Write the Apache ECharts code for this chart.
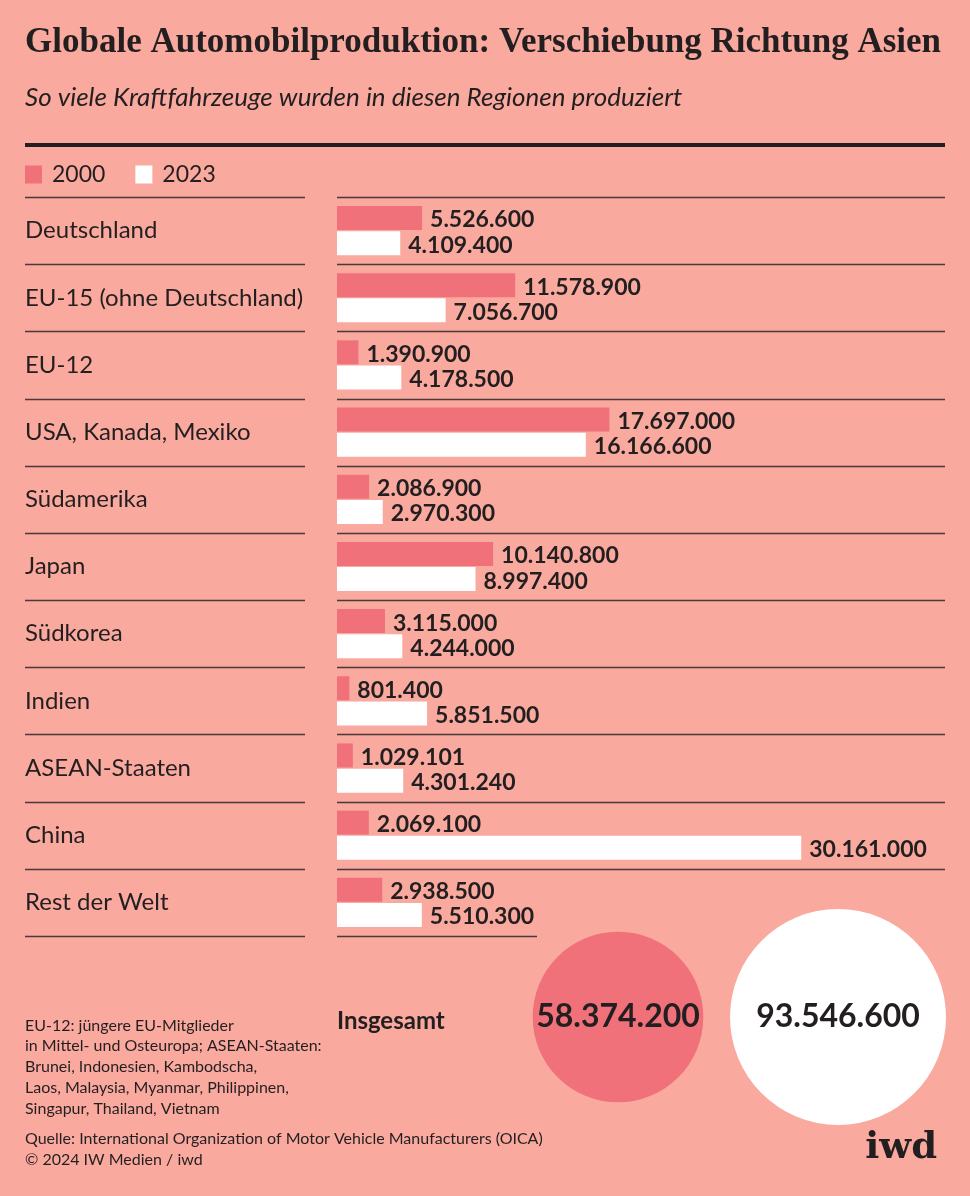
<!DOCTYPE html>
<html><head><meta charset="utf-8">
<script src="https://cdn.jsdelivr.net/npm/echarts@6/dist/echarts.min.js"></script>
<style>html,body{margin:0;padding:0;background:#f9a99e;}#c{width:970px;height:1196px;}</style>
</head><body><div id="c"></div>
<script>
const categories = ['Deutschland','EU-15 (ohne Deutschland)','EU-12','USA, Kanada, Mexiko','Südamerika','Japan','Südkorea','Indien','ASEAN-Staaten','China','Rest der Welt'];
const values2000 = [5526600,11578900,1390900,17697000,2086900,10140800,3115000,801400,1029101,2069100,2938500];
const values2023 = [4109400,7056700,4178500,16166600,2970300,8997400,4244000,5851500,4301240,30161000,5510300];
const seriesNames = ['2000','2023'];
const totals = [58374200, 93546600];

const BG='#f9a99e', RED='#f1717a', DARK='#231f20', LINE='#4a3b3b';
const SANS='"Source Sans Pro", Lato, "Noto Sans", sans-serif';
const fmt = v => String(v).replace(/\B(?=(\d{3})+(?!\d))/g,'.');

const gTop=197, gBottom=936, gLeft=337;
const pitch=(gBottom-gTop)/categories.length;
const graphics=[];
graphics.push({type:'text',left:25,top:25,style:{text:'Globale Automobilproduktion: Verschiebung Richtung Asien',font:'bold 35px "Liberation Serif", serif',fill:DARK}});
graphics.push({type:'text',left:25,top:85,style:{text:'So viele Kraftfahrzeuge wurden in diesen Regionen produziert',font:'italic 26px '+SANS,fill:DARK}});
graphics.push({type:'line',shape:{x1:25,y1:145,x2:945,y2:145},style:{stroke:DARK,lineWidth:4}});
for(let i=0;i<=categories.length;i++){
  const y=Math.round(gTop+i*pitch)+0.5;
  graphics.push({type:'line',shape:{x1:25,y1:y,x2:305,y2:y},style:{stroke:LINE,lineWidth:1.5}});
  graphics.push({type:'line',shape:{x1:gLeft,y1:y,x2:(i===categories.length?537:945),y2:y},style:{stroke:LINE,lineWidth:1.5}});
}
graphics.push({type:'text',left:337,top:1009,style:{text:'Insgesamt',font:'bold 24px '+SANS,fill:DARK}});
graphics.push({type:'text',left:25,top:1015,style:{text:'EU-12: jüngere EU-Mitglieder\nin Mittel- und Osteuropa; ASEAN-Staaten:\nBrunei, Indonesien, Kambodscha,\nLaos, Malaysia, Myanmar, Philippinen,\nSingapur, Thailand, Vietnam',font:'16px '+SANS,fill:DARK,lineHeight:20.8}});
graphics.push({type:'text',left:25,top:1128,style:{text:'Quelle: International Organization of Motor Vehicle Manufacturers (OICA)\n© 2024 IW Medien / iwd',font:'16px '+SANS,fill:DARK,lineHeight:21}});
graphics.push({type:'text',right:33,top:1130,style:{text:'iwd',font:'bold 37px "DejaVu Serif", serif',fill:DARK}});

const chart=echarts.init(document.getElementById('c'),null,{renderer:'canvas'});
const maxTot=Math.max(...totals);
const valLabel={show:true,position:'right',distance:8,offset:[0,2],formatter:p=>fmt(p.value),fontSize:23,fontWeight:'bold',color:DARK,fontFamily:SANS};
chart.setOption({
  backgroundColor:BG,
  animation:false,
  textStyle:{fontFamily:SANS,color:DARK},
  legend:{left:20,top:158,itemWidth:17,itemHeight:18,itemGap:30,icon:'rect',data:seriesNames,
    textStyle:{fontSize:23,color:DARK,fontFamily:SANS,padding:[0,0,0,5]}},
  grid:[{left:gLeft,right:25,top:gTop,bottom:1196-gBottom},{left:508,width:440,top:967,height:100}],
  xAxis:[{type:'value',gridIndex:0,min:0,max:39500000,show:false},
         {type:'category',gridIndex:1,data:seriesNames,show:false}],
  yAxis:[{type:'category',gridIndex:0,data:categories,inverse:true,
          axisLine:{show:false},axisTick:{show:false},splitLine:{show:false},
          axisLabel:{align:'left',margin:gLeft-25,fontSize:24,color:DARK,fontFamily:SANS}},
         {type:'value',gridIndex:1,min:-1,max:1,show:false}],
  series:[
    {name:'2000',type:'bar',data:values2000,barWidth:24,barGap:'5%',itemStyle:{color:RED},label:valLabel},
    {name:'2023',type:'bar',data:values2023,barWidth:24,itemStyle:{color:'#ffffff'},label:valLabel},
    {type:'scatter',xAxisIndex:1,yAxisIndex:1,silent:true,
     data:totals.map((t,i)=>({value:[i,0,t],itemStyle:{color:i===0?RED:'#ffffff',opacity:1}})),
     symbolSize:(v)=>2*108*Math.sqrt(v[2]/maxTot),
     label:{show:true,position:'inside',formatter:p=>fmt(p.value[2]),fontSize:32,fontWeight:'bold',color:DARK,fontFamily:SANS}}
  ],
  graphic:graphics
});
</script></body></html>
